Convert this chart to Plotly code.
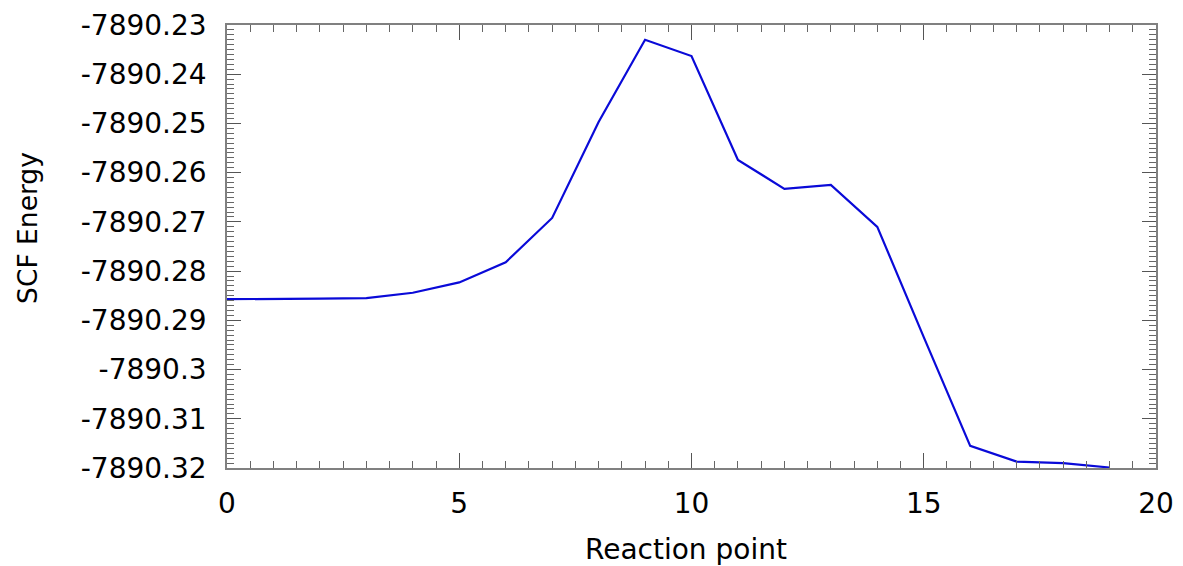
import plotly.graph_objects as go

reaction_point = list(range(20))
scf_energy = [
    -7890.2857, -7890.2857, -7890.2856, -7890.2855, -7890.2844,
    -7890.2823, -7890.2782, -7890.2692, -7890.2497, -7890.2330,
    -7890.2363, -7890.2574, -7890.2633, -7890.2625, -7890.2710,
    -7890.2934, -7890.3155, -7890.3187, -7890.3190, -7890.3199,
]
y_tick_vals = [-7890.23, -7890.24, -7890.25, -7890.26, -7890.27,
               -7890.28, -7890.29, -7890.30, -7890.31, -7890.32]
y_tick_text = ["-7890.23", "-7890.24", "-7890.25", "-7890.26", "-7890.27",
               "-7890.28", "-7890.29", "-7890.3", "-7890.31", "-7890.32"]
x_tick_vals = [0, 5, 10, 15, 20]
x_tick_text = ["0", "5", "10", "15", "20"]

FONT = "DejaVu Sans"

fig = go.Figure()
fig.add_trace(go.Scatter(
    x=reaction_point, y=scf_energy, mode="lines",
    line=dict(color="#0a0ad8", width=2.2), showlegend=False,
))

# page body has an 8px margin, so the figure is offset by 8px
fig.update_layout(
    width=1175, height=558,
    margin=dict(l=219, r=27, t=17, b=98, autoexpand=False),
    paper_bgcolor="white", plot_bgcolor="white",
    font=dict(family=FONT, size=28, color="black"),
    annotations=[
        dict(text="SCF Energy", xref="paper", yref="paper",
             x=-0.2142, y=0.542, xanchor="center", yanchor="middle",
             textangle=-90, showarrow=False, borderpad=0,
             font=dict(size=26.5, family=FONT)),
        dict(text="Reaction point", xref="paper", yref="paper",
             x=0.4946, y=-0.184, xanchor="center", yanchor="middle",
             showarrow=False, borderpad=0, font=dict(size=28, family=FONT)),
    ],
)
fig.update_xaxes(
    range=[0, 20], tickvals=x_tick_vals, ticktext=x_tick_text,
    ticks="inside", ticklen=15, tickcolor="#555", tickwidth=1,
    showline=True, linecolor="#808080", linewidth=1.5, mirror="ticks",
    showgrid=False, zeroline=False, ticklabelstandoff=10, automargin=False,
    tickfont=dict(size=28, family=FONT),
    minor=dict(dtick=0.5, ticks="inside", ticklen=7, tickcolor="#666", showgrid=False),
)
fig.update_yaxes(
    range=[-7890.32, -7890.23], tickvals=y_tick_vals, ticktext=y_tick_text,
    ticks="inside", ticklen=14, tickcolor="#555", tickwidth=1,
    showline=True, linecolor="#808080", linewidth=1.5, mirror="ticks",
    showgrid=False, zeroline=False, ticklabelstandoff=13, automargin=False,
    tickfont=dict(size=28, family=FONT),
    minor=dict(dtick=0.001, tick0=-7890.32, ticks="inside", ticklen=7, tickcolor="#666", showgrid=False),
)
fig.write_html("out.html")
